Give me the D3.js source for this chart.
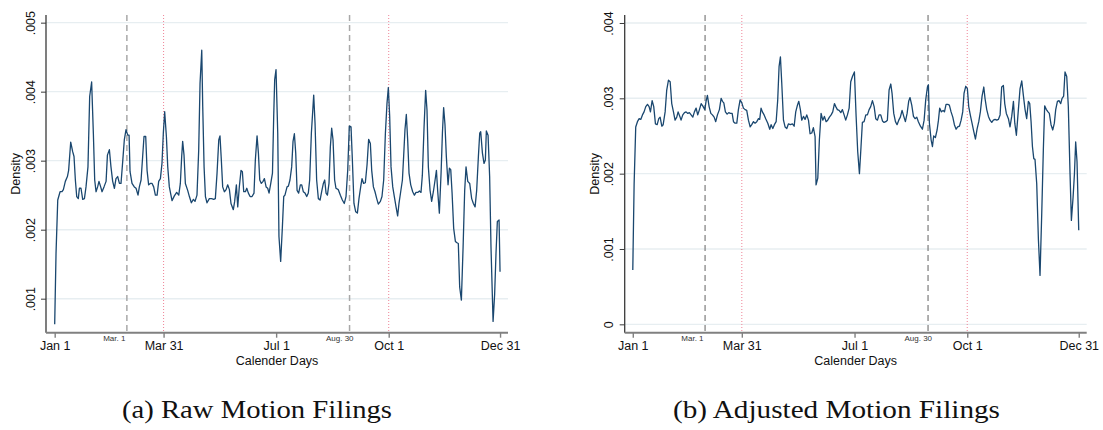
<!DOCTYPE html>
<html>
<head>
<meta charset="utf-8">
<script src="https://cdn.jsdelivr.net/npm/d3@7"></script>
<style>
  html, body { margin: 0; padding: 0; background: #fff; }
  svg { display: block; }
</style>
</head>
<body>
<svg id="chart" width="1103" height="430"></svg>
<script>
// Kernel density of filing dates: [day of year, density x 1000]
const rawFilings = [
  [1.0,0.63],[2.1,1.66],[3.5,2.43],[5.4,2.55],[7.0,2.55],[8.1,2.58],[9.7,2.70],[11.4,2.77],[12.4,2.86],[14.1,3.27],
  [15.7,3.13],[16.8,3.06],[17.9,2.72],[19.0,2.48],[20.3,2.45],[21.2,2.60],[22.5,2.60],[23.9,2.44],[25.3,2.45],[26.6,2.62],
  [28.2,2.91],[29.6,3.93],[31.2,4.14],[32.6,3.40],[33.7,2.72],[34.8,2.55],[36.1,2.62],[37.2,2.70],[38.6,2.62],[39.7,2.55],
  [41.3,2.62],[43.0,2.70],[44.1,3.08],[45.7,3.16],[47.0,2.91],[48.4,2.70],[49.8,2.60],[51.1,2.74],[52.5,2.77],[53.9,2.67],
  [55.2,2.67],[56.6,2.99],[57.9,3.30],[59.3,3.45],[60.7,3.37],[61.8,3.37],[62.6,2.84],[64.2,2.67],[66.1,2.62],[67.5,2.60],
  [69.1,2.50],[70.2,2.62],[71.6,2.72],[72.9,3.06],[74.0,3.35],[75.4,3.35],[76.5,2.86],[77.8,2.65],[79.2,2.67],[80.6,2.67],
  [81.9,2.62],[83.3,2.50],[84.7,2.50],[86.0,2.70],[87.4,2.74],[88.7,2.96],[89.8,3.40],[90.9,3.71],[92.3,3.35],[93.4,2.91],
  [94.7,2.62],[96.9,2.42],[98.8,2.49],[100.7,2.54],[102.4,2.50],[103.7,2.67],[104.8,3.06],[105.6,3.28],[106.7,3.08],[107.8,2.67],
  [109.7,2.57],[111.1,2.48],[112.7,2.39],[114.4,2.44],[115.7,2.41],[117.3,2.50],[118.7,3.15],[119.8,4.12],[121.2,4.60],[122.0,3.78],
  [123.1,2.91],[124.2,2.48],[125.5,2.39],[127.4,2.45],[129.3,2.45],[131.0,2.44],[132.3,2.45],[133.7,2.82],[135.1,3.30],[136.1,3.36],
  [137.2,3.01],[138.3,2.62],[139.7,2.55],[141.1,2.58],[142.4,2.65],[143.8,2.58],[145.1,2.38],[147.0,2.29],[148.1,2.41],[149.5,2.65],
  [150.6,2.33],[151.9,2.62],[153.3,2.86],[154.4,2.84],[155.5,2.55],[156.9,2.55],[158.0,2.60],[159.3,2.53],[160.7,2.48],[162.3,2.48],
  [163.9,2.53],[165.0,3.01],[166.4,3.36],[167.5,3.11],[168.6,2.72],[169.9,2.67],[171.3,2.70],[172.4,2.74],[173.8,2.62],[175.1,2.60],
  [176.2,2.53],[177.6,2.67],[179.0,2.82],[180.0,3.64],[180.8,4.17],[181.9,4.32],[183.3,3.40],[184.3,1.90],[185.7,1.54],[187.1,2.04],
  [188.2,2.48],[189.2,2.50],[190.9,2.62],[192.0,2.63],[193.3,2.72],[194.7,2.91],[195.8,3.28],[196.9,3.39],[198.0,3.11],[199.1,2.57],
  [200.4,2.53],[201.8,2.65],[202.9,2.65],[204.2,2.55],[205.6,2.53],[207.0,2.48],[208.3,2.53],[209.4,2.72],[210.8,3.40],[212.7,3.95],
  [213.8,3.54],[215.1,2.72],[216.5,2.45],[217.9,2.43],[219.2,2.55],[220.6,2.67],[221.7,2.72],[222.8,2.53],[223.9,2.50],[225.2,2.67],
  [226.3,3.20],[227.4,3.47],[228.5,3.30],[229.8,2.72],[230.9,2.60],[232.8,2.58],[234.5,2.50],[236.1,2.43],[237.7,2.38],[239.1,2.48],
  [240.5,2.86],[241.8,3.50],[243.2,3.49],[244.3,3.01],[245.6,2.38],[247.0,2.26],[248.4,2.24],[249.7,2.45],[251.1,2.62],[252.2,2.74],
  [253.5,2.67],[254.9,2.68],[256.3,2.94],[257.6,3.31],[259.0,3.25],[260.1,2.86],[261.5,2.62],[262.8,2.55],[264.2,2.45],[265.5,2.37],
  [267.2,2.41],[268.5,2.48],[269.9,2.72],[271.3,3.40],[272.6,3.83],[273.7,4.06],[274.8,3.64],[275.9,2.91],[277.3,2.62],[278.6,2.48],
  [280.0,2.33],[281.3,2.20],[282.4,2.38],[283.8,2.55],[285.2,2.72],[286.2,3.06],[287.3,3.45],[288.4,3.67],[289.5,3.30],[290.6,2.82],
  [292.0,2.65],[293.6,2.55],[295.0,2.50],[296.3,2.54],[297.7,2.54],[299.1,2.56],[300.4,2.54],[301.5,2.79],[302.9,3.49],[304.2,4.02],
  [305.3,3.73],[306.4,2.91],[307.8,2.57],[309.1,2.41],[310.5,2.55],[311.9,2.72],[313.0,2.86],[314.0,2.57],[315.4,2.24],[316.8,2.82],
  [317.9,3.40],[318.9,3.77],[320.0,3.52],[321.1,3.06],[322.5,2.65],[323.6,2.89],[324.7,2.87],[325.8,2.53],[327.1,2.02],[328.5,1.83],
  [329.8,1.81],[330.9,1.80],[332.0,1.17],[333.4,0.98],[334.8,1.75],[336.1,2.57],[337.2,2.91],[338.6,2.70],[340.2,2.67],[341.8,2.45],
  [343.2,2.38],[344.6,2.33],[345.9,2.57],[347.3,3.06],[348.4,3.40],[349.2,3.42],[350.6,3.11],[351.9,2.96],[353.0,3.01],[353.8,3.43],
  [355.2,3.37],[356.5,2.77],[357.6,1.75],[359.3,0.67],[360.6,1.07],[361.7,1.66],[362.8,2.12],[364.2,2.14],[365.0,1.39]
];

const adjustedFilings = [
  [1.0,0.72],[2.1,1.87],[3.4,2.62],[4.8,2.69],[6.2,2.73],[7.5,2.72],[8.9,2.78],[10.2,2.82],[11.6,2.89],[13.0,2.92],
  [14.3,2.89],[15.4,2.82],[16.8,2.97],[18.1,2.89],[19.5,2.66],[20.9,2.65],[22.2,2.73],[23.3,2.75],[24.7,2.63],[25.8,2.65],
  [27.4,2.82],[28.7,3.11],[30.1,3.24],[31.5,3.22],[32.8,2.93],[34.2,2.82],[35.5,2.71],[36.9,2.75],[38.0,2.82],[39.4,2.76],
  [40.4,2.71],[41.8,2.78],[43.2,2.81],[44.5,2.82],[45.9,2.80],[47.2,2.81],[48.6,2.78],[50.0,2.75],[51.3,2.82],[52.7,2.87],
  [54.0,2.78],[55.4,2.85],[56.8,2.93],[58.1,2.90],[59.8,2.85],[60.8,2.96],[61.9,3.04],[63.3,2.89],[64.7,2.80],[66.0,2.78],
  [67.4,2.75],[68.7,2.69],[70.1,2.78],[71.7,2.85],[73.1,3.00],[74.2,2.96],[75.3,2.94],[76.6,2.82],[78.0,2.79],[79.3,2.81],
  [80.7,2.80],[82.1,2.80],[83.2,2.69],[84.5,2.67],[85.9,2.67],[87.2,2.85],[88.6,2.98],[90.0,2.94],[91.3,2.87],[92.7,2.85],
  [94.0,2.84],[95.4,2.71],[96.8,2.62],[98.1,2.65],[99.5,2.69],[100.8,2.67],[102.2,2.69],[103.6,2.73],[104.6,2.72],[105.7,2.87],
  [106.8,2.82],[108.2,2.78],[109.5,2.73],[111.2,2.67],[112.8,2.59],[113.9,2.65],[115.3,2.60],[116.6,2.65],[118.0,2.69],[119.3,2.98],
  [120.4,3.42],[121.5,3.55],[122.6,3.20],[124.0,2.71],[125.3,2.62],[126.7,2.60],[128.0,2.66],[129.7,2.65],[131.3,2.66],[132.7,2.63],
  [134.0,2.82],[135.4,2.91],[136.5,2.96],[137.8,2.85],[138.9,2.71],[140.3,2.76],[141.6,2.72],[143.0,2.78],[144.4,2.71],[145.7,2.53],
  [147.1,2.54],[148.4,2.61],[149.8,2.49],[150.6,1.85],[152.0,1.94],[153.3,2.45],[154.7,2.80],[156.1,2.71],[157.4,2.76],[158.8,2.69],
  [160.1,2.71],[161.5,2.75],[162.9,2.78],[164.2,2.82],[165.6,2.93],[166.7,2.89],[168.0,2.85],[169.4,2.84],[170.8,2.81],[172.1,2.85],
  [173.5,2.78],[174.8,2.71],[176.2,2.78],[177.6,2.87],[178.9,3.22],[180.3,3.29],[181.9,3.35],[183.3,2.76],[184.6,2.29],[186.0,2.00],
  [187.3,2.36],[188.4,2.68],[189.8,2.69],[191.2,2.78],[192.5,2.78],[193.9,2.85],[195.2,2.89],[196.6,2.97],[198.0,2.89],[199.3,2.73],
  [200.7,2.71],[202.0,2.78],[203.4,2.78],[204.8,2.70],[206.1,2.68],[207.5,2.69],[208.8,2.71],[210.2,3.11],[211.6,3.19],[212.6,3.07],
  [214.0,2.80],[215.4,2.69],[216.7,2.65],[218.1,2.71],[219.4,2.75],[220.8,2.84],[222.2,2.76],[223.5,2.69],[224.9,2.80],[226.2,2.96],
  [227.3,3.01],[228.7,2.91],[230.1,2.76],[231.4,2.73],[232.8,2.75],[234.1,2.69],[235.8,2.63],[237.4,2.59],[238.8,2.71],[240.1,2.98],
  [241.5,3.15],[242.3,3.18],[243.1,2.67],[244.5,2.45],[245.6,2.36],[246.6,2.50],[248.0,2.48],[249.4,2.58],[250.5,2.71],[251.5,2.87],
  [252.9,2.82],[254.3,2.84],[255.4,2.82],[256.7,2.92],[258.1,2.92],[259.4,2.91],[260.8,2.82],[262.2,2.75],[263.5,2.65],[264.9,2.59],
  [266.2,2.62],[267.6,2.63],[269.0,2.71],[270.3,2.82],[271.4,3.07],[272.8,3.16],[274.1,3.13],[275.2,2.89],[276.6,2.77],[277.9,2.67],
  [279.3,2.56],[280.7,2.46],[282.0,2.59],[283.4,2.69],[284.7,2.82],[286.1,3.03],[287.5,3.15],[288.5,3.00],[289.9,2.85],[291.3,2.76],
  [292.6,2.71],[294.0,2.68],[295.3,2.71],[296.7,2.72],[298.1,2.71],[299.4,2.72],[300.8,2.78],[302.1,3.15],[303.5,3.17],[304.6,2.93],
  [305.9,2.80],[307.6,2.73],[308.9,2.62],[310.3,2.76],[311.7,2.96],[312.8,2.67],[314.1,2.51],[315.5,2.80],[317.1,3.13],[318.5,3.23],
  [319.8,3.04],[321.2,2.85],[322.5,2.73],[323.9,2.96],[325.0,2.93],[326.1,2.69],[327.2,2.36],[328.3,2.20],[329.3,2.19],[330.7,1.87],
  [332.1,1.12],[333.4,0.65],[334.8,1.47],[336.1,2.31],[337.2,2.90],[338.6,2.85],[339.9,2.82],[341.0,2.80],[342.4,2.65],[343.8,2.58],
  [345.1,2.67],[346.2,2.85],[347.6,2.96],[348.9,2.97],[350.3,2.93],[351.4,3.00],[352.7,3.03],[353.8,3.35],[355.2,3.29],[356.5,2.89],
  [357.9,2.00],[359.0,1.38],[360.4,1.69],[361.5,2.00],[362.5,2.42],[363.6,2.16],[365.0,1.25]
];

// Axis ticks and annotations
const monthTickDays = [1, 90, 182, 274, 365];
const monthTickLabels = ["Jan 1", "Mar 31", "Jul 1", "Oct 1", "Dec 31"];
const cutoffDays = [60, 242];
const cutoffLabels = ["Mar. 1", "Aug. 30"];
const deadlineDays = [90, 274];
const rawTicks = [1, 2, 3, 4, 5];
const rawTickLabels = [".001", ".002", ".003", ".004", ".005"];
const adjustedTicks = [0, 1, 2, 3, 4];
const adjustedTickLabels = ["0", ".001", ".002", ".003", ".004"];
const captions = ["(a) Raw Motion Filings", "(b) Adjusted Motion Filings"];
const yTitle = "Density";
const xTitle = "Calender Days";

const SANS = "'Liberation Sans', Arial, Helvetica, sans-serif";
const SERIF = "'Palatino Linotype', 'Book Antiqua', Palatino, 'Liberation Serif', serif";
const LINE_COLOR = "#1a476f";

const panels = [
  { data: rawFilings, ticks: rawTicks, tickLabels: rawTickLabels, caption: captions[0],
    left: 46, right: 508, top: 15, bottom: 332.7,
    yDomain: [0.507, 5.111], xDomain: [-6.1, 371.5],
    dashColor: "#a8a8a8", dashWidth: 1.5, captionX: 257, captionWidth: 270 },
  { data: adjustedFilings, ticks: adjustedTicks, tickLabels: adjustedTickLabels, caption: captions[1],
    left: 624.7, right: 1086.7, top: 15, bottom: 332.7,
    yDomain: [-0.111, 4.106], xDomain: [-5.6, 371.5],
    dashColor: "#7c7c7c", dashWidth: 1.2, captionX: 836.5, captionWidth: 327 }
];

// horizontal nudge for the small cutoff labels, relative to their line
const cutoffLabelShift = [-1.5, 4];

const svg = d3.select("#chart");

panels.forEach(p => {
  const x = d3.scaleLinear().domain(p.xDomain).range([p.left, p.right]);
  const y = d3.scaleLinear().domain(p.yDomain).range([p.bottom, p.top]);
  const g = svg.append("g");

  // horizontal grid
  g.append("g").selectAll("line").data(p.ticks).join("line")
    .attr("x1", p.left).attr("x2", p.right)
    .attr("y1", d => y(d)).attr("y2", d => y(d))
    .attr("stroke", "#e7eef1").attr("stroke-width", 1.4);

  // cutoff dates (dashed) and deadlines (dotted)
  g.append("g").selectAll("line").data(cutoffDays).join("line")
    .attr("x1", d => x(d)).attr("x2", d => x(d))
    .attr("y1", p.top).attr("y2", p.bottom)
    .attr("stroke", p.dashColor).attr("stroke-width", p.dashWidth)
    .attr("stroke-dasharray", "6,4");
  g.append("g").selectAll("line").data(deadlineDays).join("line")
    .attr("x1", d => x(d)).attr("x2", d => x(d))
    .attr("y1", p.top).attr("y2", p.bottom)
    .attr("stroke", "#ef8396").attr("stroke-width", 1)
    .attr("stroke-dasharray", "1,2");

  // density curve
  const line = d3.line().x(d => x(d[0])).y(d => y(d[1]));
  g.append("path").datum(p.data)
    .attr("d", line)
    .attr("fill", "none")
    .attr("stroke", LINE_COLOR)
    .attr("stroke-width", 1.3)
    .attr("stroke-linejoin", "round");

  // y axis with rotated labels
  const yAxis = d3.axisLeft(y).tickValues(p.ticks)
    .tickFormat((d, i) => p.tickLabels[i]).tickSize(5).tickSizeOuter(0);
  const ya = g.append("g").attr("transform", `translate(${p.left},0)`).call(yAxis);
  ya.select(".domain").remove();
  ya.append("line").attr("x1", 0).attr("x2", 0).attr("y1", p.top).attr("y2", p.bottom)
    .attr("stroke", "#3a3a3a").attr("stroke-width", 1.3);
  ya.selectAll(".tick line").attr("stroke", "#3a3a3a").attr("stroke-width", 1);
  ya.selectAll(".tick text")
    .attr("transform", "rotate(-90)")
    .attr("x", 0).attr("y", -11.5).attr("dy", 0)
    .attr("text-anchor", "middle")
    .attr("font-family", SANS).attr("font-size", 12.5).attr("fill", "#111");

  // x axis
  const xAxis = d3.axisBottom(x).tickValues(monthTickDays)
    .tickFormat((d, i) => monthTickLabels[i]).tickSize(5).tickSizeOuter(0);
  const xa = g.append("g").attr("transform", `translate(0,${p.bottom})`).call(xAxis);
  xa.select(".domain").remove();
  xa.append("line").attr("x1", p.left).attr("x2", p.right).attr("y1", 0).attr("y2", 0)
    .attr("stroke", "#808080").attr("stroke-width", 2);
  xa.selectAll(".tick line").attr("stroke", "#808080").attr("stroke-width", 1.4);
  xa.selectAll(".tick text")
    .attr("y", 17.3).attr("dy", 0)
    .attr("font-family", SANS).attr("font-size", 12.5).attr("fill", "#111");

  // small labels under the cutoff lines
  g.append("g").selectAll("text").data(cutoffDays).join("text")
    .attr("x", (d, i) => x(d) + cutoffLabelShift[i])
    .attr("y", p.bottom + 8)
    .attr("text-anchor", "end")
    .attr("font-family", SANS).attr("font-size", 8).attr("fill", "#333")
    .text((d, i) => cutoffLabels[i]);

  // axis titles
  g.append("text")
    .attr("transform", `translate(${p.left - 26},${(p.top + p.bottom) / 2}) rotate(-90)`)
    .attr("text-anchor", "middle")
    .attr("font-family", SANS).attr("font-size", 12.5).attr("fill", "#111")
    .text(yTitle);
  g.append("text")
    .attr("x", (p.left + p.right) / 2).attr("y", 365)
    .attr("text-anchor", "middle")
    .attr("font-family", SANS).attr("font-size", 12.5).attr("fill", "#111")
    .text(xTitle);

  // panel caption
  g.append("text")
    .attr("x", p.captionX - p.captionWidth / 2).attr("y", 418)
    .attr("textLength", p.captionWidth).attr("lengthAdjust", "spacingAndGlyphs")
    .attr("font-family", SERIF).attr("font-size", 25).attr("fill", "#111")
    .text(p.caption);
});
</script>
</body>
</html>
